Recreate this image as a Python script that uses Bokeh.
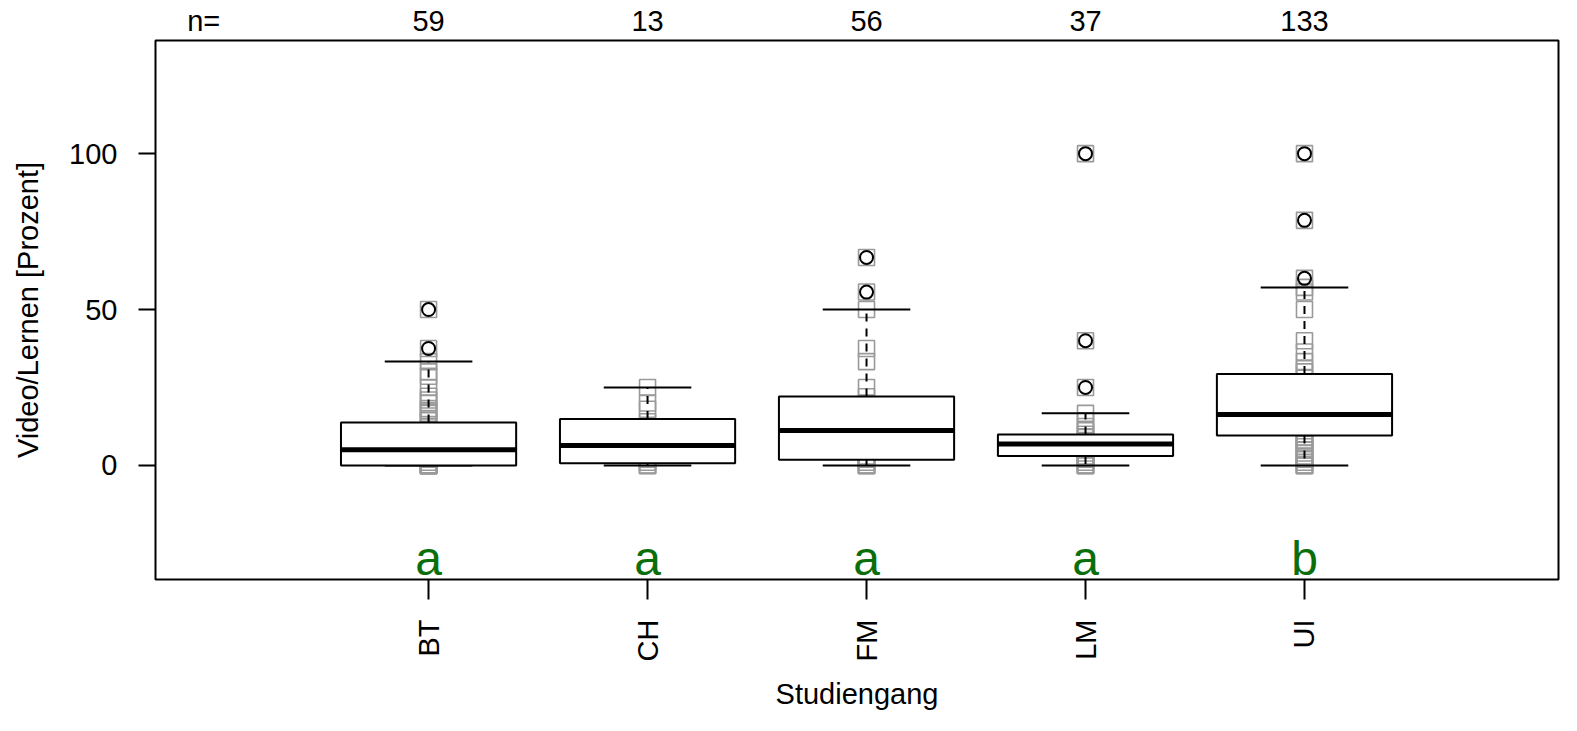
import math
import numpy as np
from bokeh.plotting import figure
from bokeh.models import Range1d, FixedTicker, LinearAxis, ColumnDataSource
from bokeh.core.properties import value
from bokeh.embed import file_html
from bokeh.resources import INLINE

# ---------------- data ----------------
categories = ["BT", "CH", "FM", "LM", "UI"]
counts = [59, 13, 56, 37, 133]
letters = ["a", "a", "a", "a", "b"]

q1 = [0.0, 0.7, 1.8, 3.0, 9.6]
median = [5.0, 6.4, 11.2, 6.9, 16.3]
q3 = [13.8, 14.9, 22.1, 9.9, 29.3]
whisker_low = [0.0, 0.0, 0.0, 0.0, 0.0]
whisker_high = [33.3, 25.0, 50.0, 16.7, 57.1]

bt_outliers = [37.5, 50.0]
ch_outliers = []
fm_outliers = [55.6, 66.7]
lm_outliers = [25.0, 40.0, 100.0]
ui_outliers = [60.0, 78.6, 100.0]

bt_points = [0, 0, 0, 0, 0, 0, 0, 0, 1, 2, 2.5, 3, 3.3, 4, 5, 5, 5.6, 6, 6.7, 8,
             10, 10, 11, 12.5, 14.3, 15, 16.7, 17.5, 18.2, 20, 21, 22.2, 25, 28.6,
             30, 33.3, 37.5, 50]
ch_points = [0, 0, 0, 1, 2, 5, 6.5, 8, 10, 14, 18, 20, 25]
fm_points = [0, 0, 0, 0, 1, 2, 2.5, 3, 5, 6, 8, 10, 11.1, 12.5, 15, 16.7, 20,
             22, 25, 33.3, 37.5, 50, 55.6, 66.7]
lm_points = [0, 0, 0, 0, 1, 2, 2.5, 3, 4, 5, 6, 7, 7.5, 8, 9, 10, 11.1, 12.5,
             14.3, 16.7, 25, 40, 100]
ui_points = [0, 0, 0, 0, 1, 2, 3, 4, 5, 5, 6, 7, 7.5, 8, 9, 10, 12, 12.5, 14, 15,
             16.7, 18, 20, 22, 25, 28, 30, 31, 33.3, 36.4, 40, 50, 55.6, 57.1,
             60, 78.6, 100]

all_points = [bt_points, ch_points, fm_points, lm_points, ui_points]
all_outliers = [bt_outliers, ch_outliers, fm_outliers, lm_outliers, ui_outliers]

# ---------------- figure ----------------
FONT = "Liberation Sans"
TXT = "29px"

p = figure(width=1561, height=715, output_backend="svg", toolbar_location=None,
           x_range=Range1d(-0.247, 6.16), y_range=Range1d(-36.6, 136.3),
           min_border_left=155, min_border_right=3, min_border_top=40,
           min_border_bottom=136)
p.grid.visible = False
p.background_fill_color = "white"
p.border_fill_color = "white"
p.outline_line_color = "black"
p.outline_line_width = 2

pos = np.arange(1, len(categories) + 1, dtype=float)

# raw points (grey squares)
px, py = [], []
for i, pts in enumerate(all_points):
    px += [pos[i]] * len(pts)
    py += list(pts)
p.scatter(px, py, marker="square", size=16, fill_color=None,
          line_color="#9a9a9a", line_width=1.6)

# boxes
src = ColumnDataSource(dict(x=pos, q1=q1, q3=q3, med=median, lo=whisker_low,
                            hi=whisker_high,
                            xl=pos - 0.4, xr=pos + 0.4,
                            sl=pos - 0.2, sr=pos + 0.2))
p.segment(x0="x", y0="q3", x1="x", y1="hi", source=src, line_color="black",
          line_width=2, line_dash="8 7")
p.segment(x0="x", y0="q1", x1="x", y1="lo", source=src, line_color="black",
          line_width=2, line_dash="8 7")
p.segment(x0="sl", y0="hi", x1="sr", y1="hi", source=src, line_color="black",
          line_width=2)
p.segment(x0="sl", y0="lo", x1="sr", y1="lo", source=src, line_color="black",
          line_width=2)
p.vbar(x="x", width=0.8, bottom="q1", top="q3", source=src, fill_color="white",
       line_color="black", line_width=2)
p.segment(x0="xl", y0="med", x1="xr", y1="med", source=src, line_color="black",
          line_width=5)

# outliers (circles)
ox, oy = [], []
for i, outs in enumerate(all_outliers):
    ox += [pos[i]] * len(outs)
    oy += list(outs)
p.scatter(ox, oy, marker="circle", size=13, fill_color=None, line_color="black",
          line_width=2)

# group letters
letter_y = -30.0
p.text(x=pos, y=[letter_y] * len(pos), text=letters,
       text_font=value(FONT), text_font_size="48px", text_color="#0a6e0a",
       text_align="center", text_baseline="alphabetic")

# axes
xa = p.xaxis[0]
xa.ticker = FixedTicker(ticks=list(pos))
xa.major_label_overrides = {float(i + 1): c for i, c in enumerate(categories)}
xa.major_label_orientation = math.pi / 2
xa.axis_line_color = None
xa.minor_tick_line_color = None
xa.major_tick_out = 20
xa.major_tick_in = 0
xa.major_tick_line_width = 2
xa.major_tick_line_color = "black"
xa.major_label_standoff = 20
xa.major_label_text_font = FONT
xa.major_label_text_font_size = TXT
xa.major_label_text_color = "black"
xa.axis_label = "Studiengang"
xa.axis_label_text_font = FONT
xa.axis_label_text_font_size = TXT
xa.axis_label_text_font_style = "normal"
xa.axis_label_text_color = "black"
xa.axis_label_standoff = 14

ya = p.yaxis[0]
ya.ticker = FixedTicker(ticks=[0, 50, 100])
ya.axis_line_color = None
ya.minor_tick_line_color = None
ya.major_tick_out = 17
ya.major_tick_in = 0
ya.major_tick_line_width = 2
ya.major_tick_line_color = "black"
ya.major_label_standoff = 21
ya.major_label_text_font = FONT
ya.major_label_text_font_size = TXT
ya.major_label_text_color = "black"
ya.axis_label = "Video/Lernen [Prozent]"
ya.axis_label_text_font = FONT
ya.axis_label_text_font_size = TXT
ya.axis_label_text_font_style = "normal"
ya.axis_label_text_color = "black"
ya.axis_label_standoff = 22

# counts above the plot
n_label_x = -0.027
top = LinearAxis(ticker=FixedTicker(ticks=[n_label_x] + list(pos)))
ov = {n_label_x: "n="}
for i, c in enumerate(counts):
    ov[float(i + 1)] = str(c)
top.major_label_overrides = ov
top.axis_line_color = None
top.major_tick_line_color = None
top.minor_tick_line_color = None
top.major_tick_out = 0
top.major_tick_in = 0
top.major_label_standoff = 4
top.major_label_text_font = FONT
top.major_label_text_font_size = TXT
top.major_label_text_color = "black"
p.add_layout(top, "above")

open("out.html", "w").write(file_html(p, INLINE))
